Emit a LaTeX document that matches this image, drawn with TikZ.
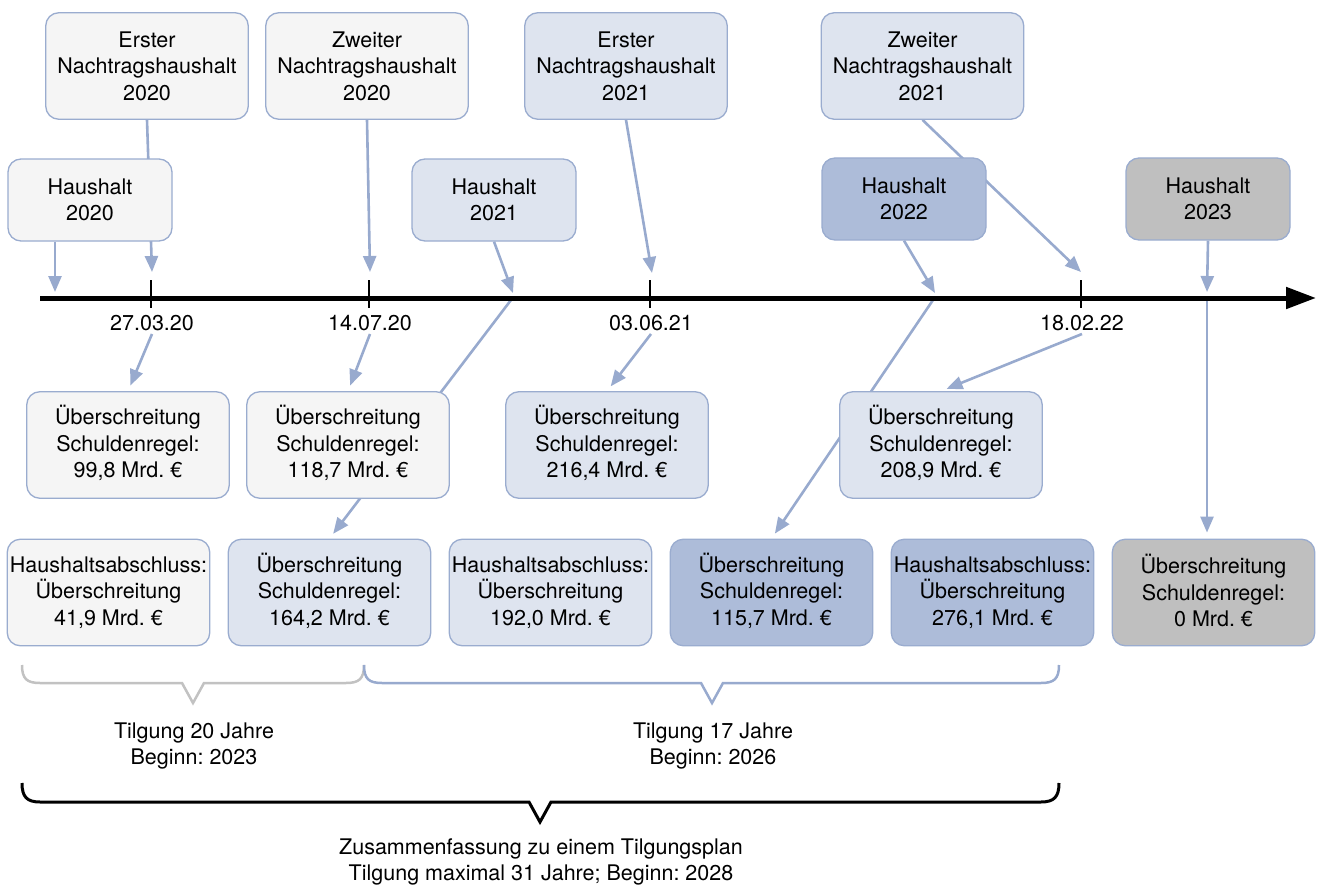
\documentclass[tikz,border=0pt]{standalone}
\usepackage{fontspec}
\setmainfont{TeX Gyre Heros}
\usetikzlibrary{positioning,arrows.meta,backgrounds}
\definecolor{bordblue}{HTML}{9AACCF}
\definecolor{arrblue}{HTML}{98AACE}
\definecolor{greybr}{HTML}{C2C2C2}
\definecolor{fillA}{HTML}{F5F5F5}
\definecolor{fillB}{HTML}{DEE4EF}
\definecolor{fillC}{HTML}{ADBCD9}
\definecolor{fillD}{HTML}{BFBFBF}
\newcommand\boxfont{\fontsize{21.5}{26.5}\selectfont}

\begin{document}
\frenchspacing
\begin{tikzpicture}
[x=1pt,y=-1pt,
  box/.style={draw=bordblue,line width=1.3pt,rounded corners=13pt,align=center,inner sep=2pt,font=\boxfont},
  bigbox/.style={box,minimum width=202.5pt,minimum height=106.5pt},
  smallbox/.style={box,minimum width=164pt,minimum height=82pt},
  date/.style={font=\boxfont,inner sep=3pt},
  arr/.style={draw=arrblue,line width=2.6pt,-{Triangle[length=16pt,width=13pt]}},
  brace/.style={line width=2.5pt,line join=miter}]
\useasboundingbox (0,0) rectangle (1317,888);
% budgets above the time line
\node[bigbox,fill=fillA] (nt20a) at (147,66) {Erster\\Nachtragshaushalt\\2020};
\node[bigbox,fill=fillA] (nt20b) at (367,66) {Zweiter\\Nachtragshaushalt\\2020};
\node[bigbox,fill=fillB] (nt21a) at (626,66) {Erster\\Nachtragshaushalt\\2021};
\node[bigbox,fill=fillB] (nt21b) at (922.5,66) {Zweiter\\Nachtragshaushalt\\2021};
\node[smallbox,fill=fillA] (hh20) at (90,200) {Haushalt\\2020};
\node[smallbox,fill=fillB] (hh21) at (494,200) {Haushalt\\2021};
\node[smallbox,fill=fillC] (hh22) at (904,199) {Haushalt\\2022};
\node[smallbox,fill=fillD] (hh23) at (1208,199) {Haushalt\\2023};
% time line
\coordinate (tl0) at (40,298); \coordinate (tl1) at (1316,298);
\draw[line width=5pt,-{Triangle[length=30pt,width=21pt]}] (tl0) -- (tl1);
\foreach \x/\dt [count=\i] in {151/27.03.20,369/14.07.20,650/03.06.21,1081/18.02.22}{
  \draw[line width=2pt] (\x,280) -- (\x,308);
  \node[date] (d\i) at (\x+1,323) {\dt};}
% excess of the debt rule
\node[bigbox,fill=fillA] (ue20a) at (128,445) {\smash{Ü}berschreitung\\Schuldenregel:\\99,8 Mrd.~€};
\node[bigbox,fill=fillA] (ue20b) at (348,445) {\smash{Ü}berschreitung\\Schuldenregel:\\118,7 Mrd.~€};
\node[bigbox,fill=fillB] (ue21a) at (607,445) {\smash{Ü}berschreitung\\Schuldenregel:\\216,4 Mrd.~€};
\node[bigbox,fill=fillB] (ue21b) at (941,445) {\smash{Ü}berschreitung\\Schuldenregel:\\208,9 Mrd.~€};
\node[bigbox,fill=fillA] (ab20) at (108.5,592.5) {Haushaltsabschluss:\\Überschreitung\\41,9 Mrd.~€};
\node[bigbox,fill=fillB,right=17.2pt of ab20] (ue20c) {\smash{Ü}berschreitung\\Schuldenregel:\\164,2 Mrd.~€};
\node[bigbox,fill=fillB,right=17.2pt of ue20c] (ab21) {Haushaltsabschluss:\\Überschreitung\\192,0 Mrd.~€};
\node[bigbox,fill=fillC,right=17.2pt of ab21] (ue22) {\smash{Ü}berschreitung\\Schuldenregel:\\115,7 Mrd.~€};
\node[bigbox,fill=fillC,right=17.2pt of ue22] (ab22) {Haushaltsabschluss:\\Überschreitung\\276,1 Mrd.~€};
\node[bigbox,fill=fillD,right=17.2pt of ab22] (ue23) {\smash{Ü}berschreitung\\Schuldenregel:\\0 Mrd.~€};
% connectors
\begin{scope}[on background layer]
\coordinate (p0) at (55,292); \coordinate (p1) at (152,272);
\coordinate (p2) at (370,272); \coordinate (p3) at (652,273);
\coordinate (p4) at (1081,272);
\coordinate (q1) at (513,293); \coordinate (q2) at (935,293); \coordinate (q3) at (1207,292);
\coordinate (r1) at (511,300); \coordinate (r2) at (933,300); \coordinate (r3) at (1207,300);
\draw[arr] (hh20.south -| p0) -- (p0);
\draw[arr] (nt20a.south) -- (p1);
\draw[arr] (nt20b.south) -- (p2);
\draw[arr] (hh21.south) -- (q1);
\draw[arr] (nt21a.south) -- (p3);
\draw[arr] (nt21b.south) -- (p4);
\draw[arr] (hh22.south) -- (q2);
\draw[arr] (hh23.south) -- (q3);
\draw[arr,shorten >=6pt] (r1) -- (ue20c.north);
\draw[arr,shorten >=6pt] (r2) -- (ue22.north);
\draw[arr,shorten >=6pt] (r3) -- (r3 |- ue23.north);
\draw[arr,shorten >=6pt] (d1.south) -- (ue20a.north);
\draw[arr,shorten >=6pt] (d2.south) -- (ue20b.north);
\draw[arr,shorten >=6pt] (d3.south) -- (ue21a.north);
\draw[arr,shorten >=6pt] (d4.south) -- (ue21b.north);
\end{scope}
% repayment braces
\draw[brace,draw=greybr] (22,665) .. controls (22,679) and (27,683) .. (40,683) -- (182,683) -- (193,703) -- (204,683) -- (346,683) .. controls (359,683) and (364,679) .. (364,665);
\draw[brace,draw=arrblue] (364,665) .. controls (364,679) and (369,683) .. (382,683) -- (701,683) -- (712,703) -- (723,683) -- (1041,683) .. controls (1054,683) and (1059,679) .. (1059,665);
\draw[brace,line width=3pt] (22,783) .. controls (22,797) and (27,802) .. (40,802) -- (529,802) -- (540,822) -- (551,802) -- (1041,802) .. controls (1054,802) and (1059,797) .. (1059,783);
\node[font=\boxfont,align=center] (tg20) at (194,746) {Tilgung 20 Jahre\\Beginn: 2023};
\node[font=\boxfont,align=center] (tg17) at (713,746) {Tilgung 17 Jahre\\Beginn: 2026};
\node[font=\boxfont,align=center] (tgall) at (541,862) {Zusammenfassung zu einem Tilgungsplan\\Tilgung maximal 31 Jahre; Beginn: 2028};
\end{tikzpicture}
\end{document}
